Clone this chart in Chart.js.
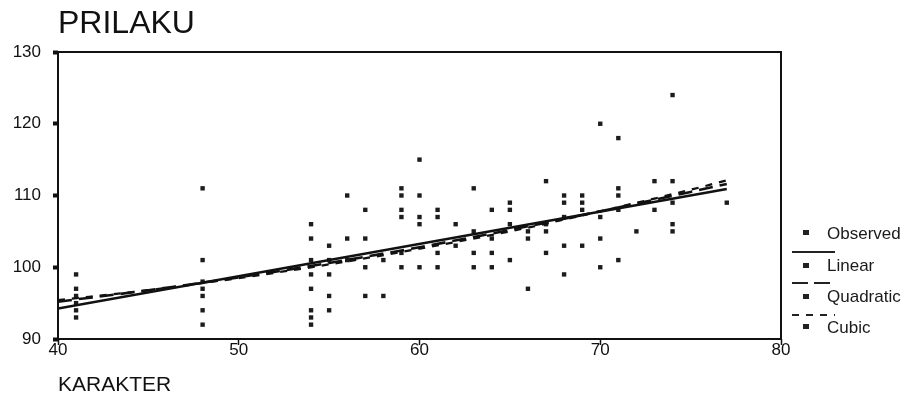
<!DOCTYPE html>
<html>
<head>
<meta charset="utf-8">
<script src="https://cdn.jsdelivr.net/npm/chart.js@4.4.0/dist/chart.umd.min.js"></script>
<style>
  html, body { margin: 0; padding: 0; background: #fff; }
  #wrap { position: relative; width: 912px; height: 407px; }
  canvas { position: absolute; left: 0; top: 0; }
  .lg { position: absolute; font-family: "Liberation Sans", Arial, sans-serif; font-size: 17px; color: #1a1a1a; line-height: 20px; }
  .mk { position: absolute; width: 6px; height: 5px; background: #222; }
</style>
</head>
<body>
<div id="wrap">
  <canvas id="c" width="912" height="407"></canvas>
  <div class="mk" style="left:803px;top:230px"></div>
  <div class="lg" style="left:827px;top:224px">Observed</div>
  <div class="mk" style="left:803px;top:263px"></div>
  <div class="lg" style="left:827px;top:256px">Linear</div>
  <div class="mk" style="left:803px;top:294px"></div>
  <div class="lg" style="left:827px;top:287px">Quadratic</div>
  <div class="mk" style="left:803px;top:324px"></div>
  <div class="lg" style="left:827px;top:318px">Cubic</div>
  <svg style="position:absolute;left:0;top:0" width="912" height="407">
    <line x1="792" y1="252" x2="835" y2="252" stroke="#222" stroke-width="2"/>
    <line x1="792" y1="283" x2="835" y2="283" stroke="#222" stroke-width="2" stroke-dasharray="16,6"/>
    <line x1="792" y1="315" x2="835" y2="315" stroke="#222" stroke-width="2" stroke-dasharray="7,7"/>
  </svg>
</div>
<script>
// Observed points (KARAKTER, PRILAKU)
const obsX = [
  41,41,41,41,41,41,
  48,48,48,48,48,48,48,
  54,54,54,54,54,54,54,54,
  55,55,55,55,55,
  56,56,56,
  57,57,57,57,
  58,58,
  59,59,59,59,59,59,
  60,60,60,60,60,
  61,61,61,61,
  62,62,
  63,63,63,63,
  64,64,64,64,
  65,65,65,65,
  66,66,66,
  67,67,67,67,
  68,68,68,68,68,
  69,69,69,69,
  70,70,70,70,
  71,71,71,71,71,
  72,
  73,73,
  74,74,74,74,74,
  77
];
const obsY = [
  99,97,96,95,94,93,
  111,101,98,97,96,94,92,
  106,104,101,99,97,94,93,92,
  103,101,99,96,94,
  110,104,101,
  108,104,100,96,
  101,96,
  111,110,108,107,102,100,
  115,110,107,106,100,
  108,107,102,100,
  106,103,
  111,105,102,100,
  108,104,102,100,
  109,108,106,101,
  105,104,97,
  112,106,105,102,
  110,109,107,103,99,
  110,109,108,103,
  120,107,104,100,
  118,111,110,108,101,
  105,
  112,108,
  124,112,109,106,105,
  109
];
// Fitted curves
const linX = [40, 77];
const linY = [94.25, 110.9];
const quadX = [40, 45, 50, 55, 60, 65, 70, 75, 77];
const quadY = [95.2, 96.8, 98.6, 100.6, 102.8, 105.2, 107.8, 110.5, 111.6];
const cubX = [40, 45, 50, 55, 60, 65, 70, 75, 77];
const cubY = [95.4, 96.8, 98.5, 100.4, 102.6, 105.0, 107.8, 110.8, 112.1];
const xTicks = [40, 50, 60, 70, 80];
const yTicks = [90, 100, 110, 120, 130];

const pts = (xs, ys) => xs.map((x, i) => ({x: x, y: ys[i]}));
const FONT = '"Liberation Sans", Arial, sans-serif';
const INK = '#111';

const frame = {
  id: 'frame',
  afterDatasetsDraw(chart) {
    const a = chart.chartArea, ctx = chart.ctx;
    ctx.save();
    ctx.strokeStyle = '#111';
    ctx.lineWidth = 2;
    ctx.strokeRect(a.left, a.top, a.right - a.left, a.bottom - a.top);
    ctx.restore();
  }
};

new Chart(document.getElementById('c'), {
  data: {
    datasets: [
      { type: 'scatter', label: 'Observed', data: pts(obsX, obsY), pointStyle: 'rect',
        pointRadius: 3.1, backgroundColor: '#1c1c1c', borderColor: '#1c1c1c', borderWidth: 0, order: 4 },
      { type: 'line', label: 'Linear', data: pts(linX, linY), borderColor: INK, borderWidth: 2.6,
        pointRadius: 0, fill: false, order: 1 },
      { type: 'line', label: 'Quadratic', data: pts(quadX, quadY), borderColor: INK, borderWidth: 2.6,
        borderDash: [14, 7], pointRadius: 0, fill: false, cubicInterpolationMode: 'monotone', order: 2 },
      { type: 'line', label: 'Cubic', data: pts(cubX, cubY), borderColor: INK, borderWidth: 2.3,
        borderDash: [7, 7], pointRadius: 0, fill: false, cubicInterpolationMode: 'monotone', order: 3 }
    ]
  },
  options: {
    responsive: false,
    animation: false,
    events: [],
    layout: { padding: { left: 0, right: 131, top: 0, bottom: 0 } },
    plugins: {
      legend: { display: false },
      tooltip: { enabled: false },
      title: {
        display: true, text: 'PRILAKU', align: 'start', fullSize: false,
        color: INK, font: { family: FONT, size: 32, weight: 'normal' },
        padding: { top: 5, bottom: 8.6 }
      }
    },
    scales: {
      x: {
        type: 'linear', position: 'bottom', min: 40, max: 80,
        afterBuildTicks: s => { s.ticks = xTicks.map(v => ({value: v})); },
        afterFit: s => { s.height = 68; },
        border: { display: false },
        grid: { drawOnChartArea: false, drawTicks: true, tickLength: 6, tickWidth: 1.5, color: '#111' },
        ticks: { color: INK, font: { family: FONT, size: 17 }, padding: -5, maxRotation: 0 },
        title: { display: true, text: 'KARAKTER', align: 'start', color: INK,
                 font: { family: FONT, size: 21 }, padding: { top: 0, bottom: 9 } }
      },
      y: {
        type: 'linear', min: 90, max: 130,
        afterBuildTicks: s => { s.ticks = yTicks.map(v => ({value: v})); },
        afterFit: s => { s.width = 58; },
        border: { display: false },
        grid: { drawOnChartArea: false, drawTicks: true, tickLength: 5, tickWidth: 4, color: '#111' },
        ticks: { color: INK, font: { family: FONT, size: 17 }, padding: 12 }
      }
    }
  },
  plugins: [frame]
});
</script>
</body>
</html>
